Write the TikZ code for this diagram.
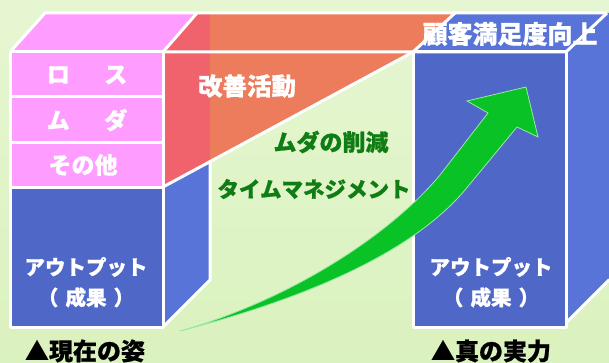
\documentclass[tikz,border=0pt]{standalone}
\usepackage{fontspec}
\newfontfamily\jpfont{Noto Sans CJK JP}[BoldFeatures={FakeBold=0.8}]
\usetikzlibrary{positioning}
\newcommand{\fsz}[1]{\fontsize{#1pt}{#1pt}\selectfont}
\definecolor{bgtop}{HTML}{E6F6D2}
\definecolor{bgbot}{HTML}{DAF2BE}
\definecolor{pinkface}{HTML}{FF9CFF}
\definecolor{bluefront}{HTML}{4F67C7}
\definecolor{blueside}{HTML}{5874D8}
\definecolor{orangeband}{HTML}{EC7C5B}
\definecolor{redstrip}{HTML}{F0636C}
\definecolor{arrowgreen}{HTML}{08C226}
\definecolor{textgreen}{HTML}{0F7D14}
\tikzstyle{edge} = [draw=white, line width=3pt, line join=round]
\tikzstyle{facelabel} = [text=white, font=\jpfont\bfseries\fsz{20.5}, inner sep=0pt]
\tikzstyle{rowlabel} = [text=white, font=\jpfont\bfseries\fsz{23}, inner sep=0pt]
\tikzstyle{steplabel} = [text=textgreen, inner sep=0pt]
\tikzstyle{caption} = [text=black, font=\jpfont\bfseries\fsz{24}, inner sep=0pt]

\begin{document}
\begin{tikzpicture}[x=1pt, y=-1pt]
	\useasboundingbox (0,0) rectangle (609,363);
	\shade[top color=bgtop, bottom color=bgbot] (0,0) rectangle (609,363);
	% left box: side face and the red band over it
	\fill[blueside] (163,52) -- (197,13) -- (210,13) -- (210,280) -- (163,327) -- cycle;
	\fill[redstrip] (163,52) -- (197,13) -- (210,13) -- (210,161.6) -- (163,187) -- cycle;
	\fill[orangeband] (210,13) -- (455,13) -- (413,52) -- (210,161.6) -- cycle;
	% right box
	\fill[blueside] (413,52) -- (455,13) -- (607,13) -- (566,52) -- cycle;
	\fill[blueside] (566,52) -- (607,13) -- (609,13) -- (609,278) -- (566,321) -- cycle;
	\fill[bluefront] (413,52) rectangle (566,327);
	% left box: top and front
	\fill[pinkface] (10,52) -- (45,13) -- (197,13) -- (163,52) -- cycle;
	\fill[pinkface] (10,52) rectangle (163,188);
	\fill[bluefront] (10,188) rectangle (163,327);
	% white edges
	\draw[edge] (10,52) rectangle (163,327);
	\foreach \y in {97,143,188}
		\draw[edge] (10,\y) -- (163,\y);
	\draw[edge] (10,52) -- (45,13) -- (607,13);
	\draw[edge] (163,52) -- (197,13);
	\draw[edge] (163,327) -- (210,280) -- (210,161.6);
	\draw[edge] (163,52) -- (566,52) -- (607,13);
	\draw[edge] (163,187) -- (413,52) -- (455,13);
	\draw[edge] (413,52) rectangle (566,327);
	\draw[edge] (566,323) -- (609,280);
	% growth arrow
	\fill[arrowgreen, draw=white!60!arrowgreen, line width=0.8pt]
		(180,331) .. controls (290,300) and (390,235) .. (440,175) -- (488,113)
		-- (467,101) -- (526,87) -- (538,137) -- (517,127) -- (465,190)
		.. controls (410,255) and (300,300) .. (180,331) -- cycle;
	% labels
	\node[rowlabel] (lossL) at (87,75) {ロ\hspace{1.5em}ス};
	\node[rowlabel] (mudaL) at (87,120) {ム\hspace{1.5em}ダ};
	\node[rowlabel] (otherL) at (83,165) {その他};
	\node[facelabel] (outL) at (86,267) {アウトプット};
	\node[facelabel, below=10pt of outL] (resL) {（\hspace{0.35em}成果\hspace{0.35em}）};
	\node[facelabel] (outR) at (491,267) {アウトプット};
	\node[facelabel, below=10pt of outR] (resR) {（\hspace{0.35em}成果\hspace{0.35em}）};
	\node[text=white, font=\jpfont\bfseries\fsz{24.5}, inner sep=0pt] (kaizen) at (247,86) {改善活動};
	\node[text=white, font=\jpfont\bfseries\fsz{25}, inner sep=0pt] (satisfy) at (510,34) {顧客満足度向上};
	\node[steplabel, font=\jpfont\bfseries\fsz{23}] (mudaCut) at (331,142) {ムダの削減};
	\node[steplabel, font=\jpfont\bfseries\fsz{21.5}] (timeMgmt) at (314,189) {タイムマネジメント};
	\node[caption] (nowL) at (85,351) {▲現在の姿};
	\node[caption] (trueL) at (491,351) {▲真の実力};
\end{tikzpicture}
\end{document}
